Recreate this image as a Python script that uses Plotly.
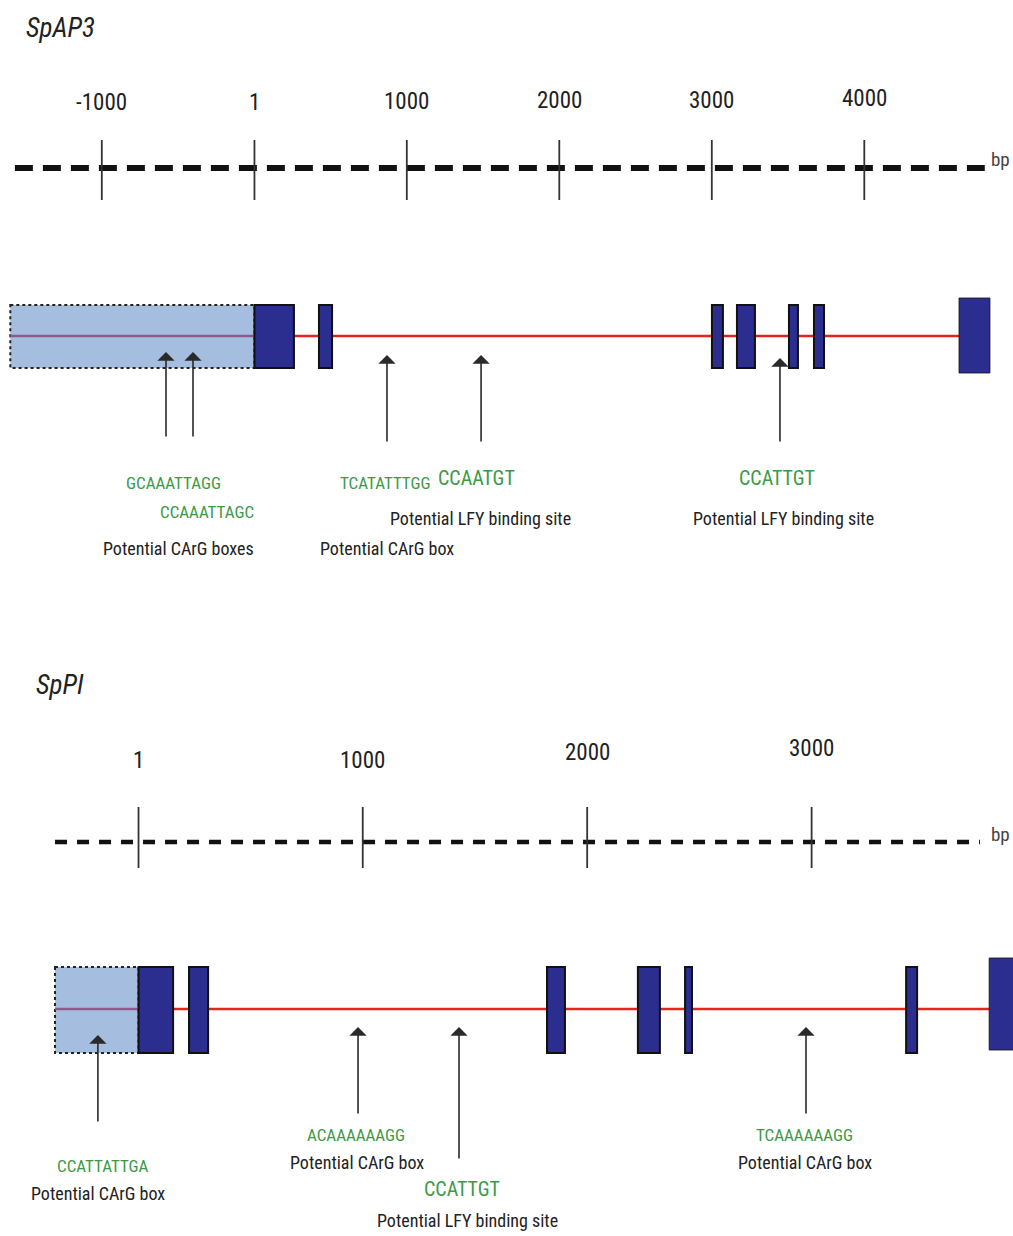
import plotly.graph_objects as go

PW, PH = 1013, 1236
W, H = PW, PH
FONT = "Roboto Condensed, DejaVu Sans Condensed, Liberation Sans Narrow, sans-serif"
GREEN = "#3a9a45"
NAVY = "#2b2d8f"
RED = "#e3241f"
PURPLE = "#8e5a8e"
PROM = "#a5bee0"

# ---------------- SpAP3 data (bp) ----------------
ap3_ticks = [-1000, 1, 1000, 2000, 3000, 4000]
ap3_tick_labels = ["-1000", "1", "1000", "2000", "3000", "4000"]
ap3_axis_span = [-1570, 4790]
ap3_promoter = [-1600, 1]
ap3_exon_start = [1, 424, 3001, 3165, 3506, 3670, 4621]
ap3_exon_end = [260, 510, 3073, 3283, 3565, 3736, 4824]
ap3_intron_span = [260, 4621]
ap3_sites = [-579, -402, 870, 1487, 3447]
ap3_seq_labels = ["GCAAATTAGG", "CCAAATTAGC", "TCATATTTGG", "CCAATGT", "CCATTGT"]
ap3_seq_x = [-530, -310, 860, 1460, 3430]
ap3_desc_labels = ["Potential CArG boxes", "Potential CArG box",
                   "Potential LFY binding site", "Potential LFY binding site"]
ap3_desc_x = [-500, 870, 1480, 3470]

# ---------------- SpPI data (bp) ----------------
pi_ticks = [1, 1000, 2000, 3000]
pi_tick_labels = ["1", "1000", "2000", "3000"]
pi_axis_span = [-371, 3750]
pi_promoter = [-371, 1]
pi_exon_start = [1, 226, 1821, 2226, 2436, 3421, 3791]
pi_exon_end = [155, 311, 1901, 2324, 2467, 3470, 3920]
pi_intron_span = [155, 3791]
pi_sites = [-180, 979, 1429, 2975]
pi_seq_labels = ["CCATTATTGA", "ACAAAAAAGG", "CCATTGT", "TCAAAAAAGG"]
pi_seq_x = [-157, 968, 1442, 2970]
pi_desc_labels = ["Potential CArG box", "Potential CArG box",
                  "Potential LFY binding site", "Potential CArG box"]
pi_desc_x = [-180, 974, 1465, 2970]

# pixel scale of each panel (page pixels)
ap3_a, ap3_b = 254.3, 0.1525
pi_a, pi_b = 138.3, 0.22444
ap3_range = [(0 - ap3_a) / ap3_b, (PW - ap3_a) / ap3_b]
pi_range = [(0 - pi_a) / pi_b, (PW - pi_a) / pi_b]

fig = go.Figure()
shapes = []
ann = []


def txt(x, y, s, xref, size, color="#222", italic=False, xanchor="center", weight=400):
    ann.append(dict(x=x, y=y, xref=xref, yref="y", text=s, showarrow=False,
                    xanchor=xanchor, yanchor="middle",
                    font=dict(family=FONT, size=size, color=color, weight=weight,
                              style="italic" if italic else "normal")))


def arrow(x, y_head, y_tail, xref, axref):
    ann.append(dict(x=x, y=y_head, ax=x, ay=y_tail, xref=xref, yref="y",
                    axref=axref, ayref="y", text="", showarrow=True,
                    arrowhead=1, arrowsize=1.8, arrowwidth=1.6, arrowcolor="#2a2a2a",
                    standoff=0))


def line(xs, y, tr_x, color, width, dash=None):
    fig.add_trace(go.Scatter(x=xs, y=[y] * len(xs), mode="lines",
                             xaxis=tr_x, yaxis="y",
                             line=dict(color=color, width=width, dash=dash),
                             hoverinfo="skip", showlegend=False))


def panel(xref, ticks, labels, tick_label_y, axis_span, axis_y, dash, dwidth,
          tick_top, tick_bot, promoter, es, ee, intron, line_y, box_top, box_bot,
          last_top, last_bot):
    line(axis_span, axis_y, xref, "#111", dwidth, dash)
    for t, lab, ly in zip(ticks, labels, tick_label_y):
        fig.add_trace(go.Scatter(x=[t, t], y=[tick_top, tick_bot], mode="lines",
                                 xaxis=xref, yaxis="y",
                                 line=dict(color="#333", width=1.8),
                                 hoverinfo="skip", showlegend=False))
        txt(t, ly, lab, xref, 23, "#222")
    shapes.append(dict(type="rect", xref=xref, yref="y", x0=promoter[0], x1=promoter[1],
                       y0=box_top, y1=box_bot, fillcolor=PROM,
                       line=dict(color="#222", width=2, dash="dot"), layer="below"))
    line(promoter, line_y, xref, PURPLE, 2.6)
    line(intron, line_y, xref, RED, 2.6)
    n = len(es)
    for i, (a, b) in enumerate(zip(es, ee)):
        top, bot = (last_top, last_bot) if i == n - 1 else (box_top, box_bot)
        shapes.append(dict(type="rect", xref=xref, yref="y", x0=a, x1=b,
                           y0=top, y1=bot, fillcolor=NAVY,
                           line=dict(color="#111", width=2 if i < n - 1 else 0.8),
                           layer="above"))


# ---- SpAP3 ----
txt(-1510, 28, "SpAP3", "x", 27, "#222", italic=True, xanchor="left")
txt(4815, 159, "bp", "x", 19, "#444", xanchor="left")
panel("x", ap3_ticks, ap3_tick_labels, [102, 102, 101, 100, 100, 98],
      ap3_axis_span, 168, "18px,10px", 6, 140, 200,
      ap3_promoter, ap3_exon_start, ap3_exon_end, ap3_intron_span, 336, 305, 368, 298, 373)
for s, yh, yt in zip(ap3_sites, [352, 352, 355, 355, 358], [438, 438, 443, 443, 443]):
    arrow(s, yh, yt, "x", "x")
for lab, x, y, sz in zip(ap3_seq_labels, ap3_seq_x, [483, 512, 483, 478, 478], [17, 17, 17, 20, 20]):
    txt(x, y, lab, "x", sz, GREEN)
for lab, x, y in zip(ap3_desc_labels, ap3_desc_x, [548, 548, 518, 518]):
    txt(x, y, lab, "x", 18, "#222")

# ---- SpPI ----
txt(3790, 834, "bp", "x2", 19, "#444", xanchor="left")
txt(-465, 685, "SpPI", "x2", 27, "#222", italic=True, xanchor="left")
panel("x2", pi_ticks, pi_tick_labels, [760, 760, 752, 748],
      pi_axis_span, 842, "12px,10px", 4.5, 807, 868,
      pi_promoter, pi_exon_start, pi_exon_end, pi_intron_span, 1009, 967, 1053, 958, 1050)
for s, yh, yt in zip(pi_sites, [1035, 1027, 1027, 1027], [1123, 1115, 1160, 1115]):
    arrow(s, yh, yt, "x2", "x2")
for lab, x, y, sz in zip(pi_seq_labels, pi_seq_x, [1166, 1135, 1189, 1135], [17, 17, 20, 17]):
    txt(x, y, lab, "x2", sz, GREEN)
for lab, x, y in zip(pi_desc_labels, pi_desc_x, [1193, 1162, 1220, 1162]):
    txt(x, y, lab, "x2", 18, "#222")

fig.update_layout(
    width=W, height=H, margin=dict(l=0, r=0, t=0, b=0),
    paper_bgcolor="white", plot_bgcolor="white",
    xaxis=dict(range=ap3_range, visible=False, fixedrange=True),
    xaxis2=dict(range=pi_range, visible=False, overlaying="x", fixedrange=True),
    yaxis=dict(range=[H, 0], visible=False, fixedrange=True),
    shapes=shapes, annotations=ann, showlegend=False,
)
fig.write_html("out.html", config={"displayModeBar": False},
               post_script="document.body.style.margin='0';"
                           "document.body.style.overflow='hidden';")
